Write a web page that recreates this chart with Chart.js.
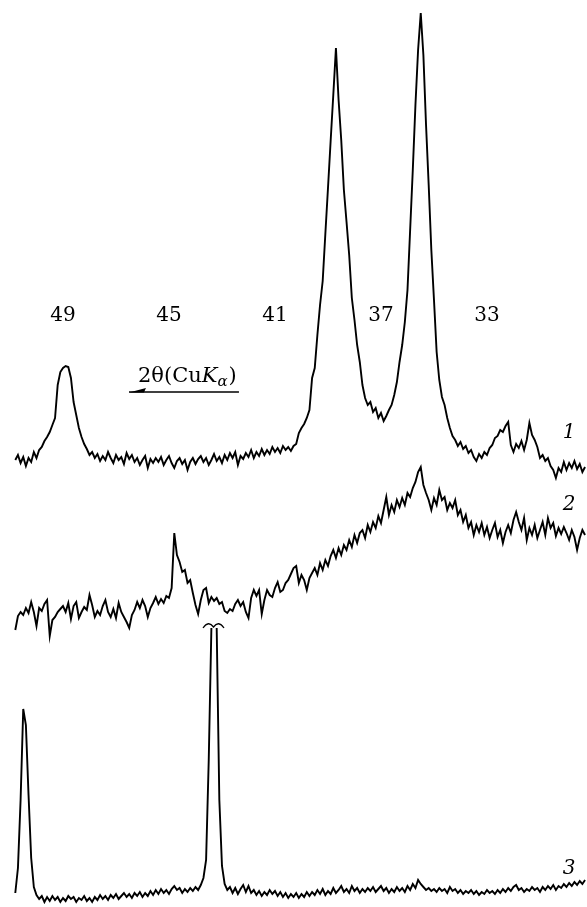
<!DOCTYPE html>
<html>
<head>
<meta charset="utf-8">
<script src="https://cdn.jsdelivr.net/npm/chart.js@4.4.1/dist/chart.umd.min.js"></script>
<style>
  html, body { margin: 0; padding: 0; background: #fff; }
  #wrap { width: 587px; height: 907px; }
</style>
</head>
<body>
<div id="wrap"><canvas id="c" width="587" height="907"></canvas></div>
<script>
// 2θ sampling angles (degrees, CuKα)
const twoTheta = [
  50.8,50.7,50.6,50.5,50.4,50.3,50.2,50.1,50.0,49.9,
  49.8,49.7,49.6,49.5,49.4,49.3,49.2,49.1,49.0,48.9,
  48.8,48.7,48.6,48.5,48.4,48.3,48.2,48.1,48.0,47.9,
  47.8,47.7,47.6,47.5,47.4,47.3,47.2,47.1,47.0,46.9,
  46.8,46.7,46.6,46.5,46.4,46.3,46.2,46.1,46.0,45.9,
  45.8,45.7,45.6,45.5,45.4,45.3,45.2,45.1,45.0,44.9,
  44.8,44.7,44.6,44.5,44.4,44.3,44.2,44.1,44.0,43.9,
  43.8,43.7,43.6,43.5,43.4,43.3,43.2,43.1,43.0,42.9,
  42.8,42.7,42.6,42.5,42.4,42.3,42.2,42.1,42.0,41.9,
  41.8,41.7,41.6,41.5,41.4,41.3,41.2,41.1,41.0,40.9,
  40.8,40.7,40.6,40.5,40.4,40.3,40.2,40.1,40.0,39.9,
  39.8,39.7,39.6,39.5,39.4,39.3,39.2,39.1,39.0,38.9,
  38.8,38.7,38.6,38.5,38.4,38.3,38.2,38.1,38.0,37.9,
  37.8,37.7,37.6,37.5,37.4,37.3,37.2,37.1,37.0,36.9,
  36.8,36.7,36.6,36.5,36.4,36.3,36.2,36.1,36.0,35.9,
  35.8,35.7,35.6,35.5,35.4,35.3,35.2,35.1,35.0,34.9,
  34.8,34.7,34.6,34.5,34.4,34.3,34.2,34.1,34.0,33.9,
  33.8,33.7,33.6,33.5,33.4,33.3,33.2,33.1,33.0,32.9,
  32.8,32.7,32.6,32.5,32.4,32.3,32.2,32.1,32.0,31.9,
  31.8,31.7,31.6,31.5,31.4,31.3,31.2,31.1,31.0,30.9,
  30.8,30.7,30.6,30.5,30.4,30.3,30.2,30.1,30.0,29.9,
  29.8,29.7,29.6,29.5,29.4,29.3
];

// Intensities (arbitrary units)
const intensity1 = [
  20,25,17,23,14,22,18,28,22,30,
  33,39,43,48,55,62,95,108,112,114,
  113,102,78,65,52,43,36,31,25,28,
  22,26,19,24,20,28,22,17,25,20,
  23,16,27,21,25,18,22,15,20,24,
  12,21,17,22,18,23,15,20,24,17,
  12,19,22,16,20,10,18,22,16,21,
  24,18,22,15,20,26,19,23,17,25,
  20,27,22,28,15,24,21,27,23,30,
  22,28,24,31,25,30,26,33,28,32,
  27,34,30,33,29,34,36,47,52,56,
  62,70,102,112,145,175,199,246,292,339,
  385,432,380,340,290,258,225,182,160,135,
  118,95,82,75,78,68,72,62,67,59,
  64,70,75,85,98,118,135,158,190,250,
  310,375,430,467,425,355,295,230,180,128,
  100,83,75,62,52,44,40,34,38,31,
  34,27,30,23,19,26,22,28,25,32,
  35,42,44,50,48,54,58,35,28,36,
  32,39,30,40,57,45,40,33,22,25,
  19,22,14,10,2,12,8,18,10,17,
  12,19,11,16,8,13
];

const intensity2 = [
  10,24,28,25,32,27,38,28,14,32,
  29,36,40,4,20,23,28,31,34,28,
  37,21,34,38,22,28,33,30,45,35,
  23,29,25,34,40,28,23,31,22,37,
  28,23,18,12,25,30,38,32,40,34,
  23,32,37,43,36,41,37,44,42,52,
  107,85,78,68,70,57,60,47,35,26,
  40,50,52,37,43,39,42,36,38,29,
  27,31,29,36,40,34,38,28,22,42,
  50,44,50,26,40,50,45,43,52,58,
  48,50,57,60,66,72,74,57,65,60,
  50,62,67,72,65,77,70,80,74,84,
  90,82,92,85,95,90,100,93,105,97,
  107,110,102,115,108,118,112,124,117,130,
  143,125,135,128,140,133,142,135,147,143,
  152,158,168,173,155,147,140,130,142,135,
  150,140,143,130,137,132,140,125,130,118,
  125,112,118,105,115,108,117,105,113,102,
  110,117,103,110,97,108,115,107,120,128,
  118,110,122,100,112,105,115,102,110,118,
  105,122,112,117,104,112,106,113,107,100,
  110,103,90,102,110,105
];

// null = off-scale maximum (broken peak)
const intensity3 = [
  12,37,105,196,180,110,47,18,10,6,
  9,3,8,4,9,5,8,3,7,4,
  9,6,8,3,7,5,9,4,7,3,
  8,5,10,6,9,5,10,7,11,6,
  9,12,8,11,7,12,9,13,8,12,
  9,14,10,15,11,16,12,15,11,16,
  19,15,17,12,16,13,17,14,18,15,
  20,27,45,145,277,null,277,105,39,21,
  15,18,12,17,11,16,20,13,19,12,
  15,10,14,9,13,10,15,11,14,9,
  13,8,12,7,11,8,12,7,11,8,
  13,9,13,10,15,11,16,10,14,11,
  17,12,15,19,13,16,12,19,14,17,
  12,16,13,17,14,18,13,16,19,14,
  17,12,16,13,18,14,17,13,19,15,
  21,17,25,21,18,15,17,14,16,13,
  17,14,16,12,18,14,16,12,15,11,
  14,12,15,11,14,10,13,11,15,12,
  14,11,15,12,16,13,17,14,18,20,
  15,17,13,16,14,18,15,17,13,18,
  15,19,16,20,15,19,17,21,18,22,
  19,23,20,24,21,25
];

const tickLabels = [49, 45, 41, 37, 33];
const curveNames = ['1', '2', '3'];
const axisTitle = ['2θ(Cu', 'K', 'α', ')'];

// layout constants (stacking offsets and view range)
const OFFSETS = [427, 267, 2];
const X_MIN = 29.226, X_MAX = 51.377;
const Y_MIN = 0, Y_MAX = 907;
const TICK_ROW = 603;
const NAME_X = 29.9;
const NAME_Y = [469, 397, 33];
const TITLE_POS = { x: 46.17, y: 525 };
const ARROW = { from: 42.36, to: 46.51, y: 515 };
const BREAK_POS = { x: 43.32, y: 281 };

const series = [intensity1, intensity2, intensity3];
const datasets = series.map((arr, k) => ({
  label: curveNames[k],
  data: twoTheta.map((t, i) => ({ x: t, y: arr[i] === null ? null : arr[i] + OFFSETS[k] })),
  borderColor: '#000',
  borderWidth: 1.9,
  pointRadius: 0,
  tension: 0,
  fill: false,
  spanGaps: false
}));

const annotations = {
  id: 'annotations',
  afterDraw(chart) {
    const { ctx } = chart;
    const xs = chart.scales.x, ys = chart.scales.y;
    ctx.save();
    ctx.fillStyle = '#000';
    ctx.strokeStyle = '#000';
    // curve numbers
    ctx.font = 'italic 20px "DejaVu Serif"';
    ctx.textAlign = 'center';
    ctx.textBaseline = 'alphabetic';
    curveNames.forEach((n, k) => {
      ctx.fillText(n, xs.getPixelForValue(NAME_X), ys.getPixelForValue(NAME_Y[k]));
    });
    // axis title 2θ(CuKα)
    ctx.textAlign = 'left';
    let tx = xs.getPixelForValue(TITLE_POS.x);
    const ty = ys.getPixelForValue(TITLE_POS.y);
    ctx.font = '21px "DejaVu Serif"';
    ctx.fillText(axisTitle[0], tx, ty); tx += ctx.measureText(axisTitle[0]).width;
    ctx.font = 'italic 21px "DejaVu Serif"';
    ctx.fillText(axisTitle[1], tx, ty); tx += ctx.measureText(axisTitle[1]).width;
    ctx.font = 'italic 15px "DejaVu Serif"';
    ctx.fillText(axisTitle[2], tx, ty + 4); tx += ctx.measureText(axisTitle[2]).width + 1;
    ctx.font = '21px "DejaVu Serif"';
    ctx.fillText(axisTitle[3], tx, ty);
    // arrow (toward increasing 2θ)
    const ax1 = xs.getPixelForValue(ARROW.from), ax2 = xs.getPixelForValue(ARROW.to);
    const ay = ys.getPixelForValue(ARROW.y);
    ctx.lineWidth = 1.5;
    ctx.beginPath(); ctx.moveTo(ax1, ay); ctx.lineTo(ax2, ay); ctx.stroke();
    ctx.beginPath();
    ctx.moveTo(ax2, ay + 0.5);
    ctx.lineTo(ax2 + 17, ay - 4);
    ctx.lineTo(ax2 + 15, ay + 0.5);
    ctx.closePath(); ctx.fill();
    // break mark on the off-scale peak of curve 3
    const bx = xs.getPixelForValue(BREAK_POS.x), by = ys.getPixelForValue(BREAK_POS.y);
    ctx.lineWidth = 1.3;
    ctx.beginPath();
    ctx.moveTo(bx - 10.5, by + 2);
    ctx.quadraticCurveTo(bx - 5, by - 6, bx, by + 1);
    ctx.quadraticCurveTo(bx + 5, by - 6, bx + 10.5, by + 2);
    ctx.stroke();
    ctx.restore();
  }
};

new Chart(document.getElementById('c'), {
  type: 'line',
  data: { datasets },
  options: {
    responsive: false,
    animation: false,
    events: [],
    layout: { padding: 0 },
    plugins: { legend: { display: false }, tooltip: { enabled: false }, title: { display: false } },
    scales: {
      x: {
        type: 'linear',
        reverse: true,
        min: X_MIN,
        max: X_MAX,
        position: { y: TICK_ROW },
        grid: { display: false, drawTicks: false },
        border: { display: false },
        ticks: {
          color: '#000',
          padding: 0,
          maxRotation: 0,
          autoSkip: false,
          font: { family: '"DejaVu Serif"', size: 20 }
        },
        afterBuildTicks: ax => { ax.ticks = tickLabels.map(v => ({ value: v })); },
        afterFit: ax => { ax.height = 0; }
      },
      y: {
        type: 'linear',
        display: false,
        min: Y_MIN,
        max: Y_MAX
      }
    }
  },
  plugins: [annotations]
});
</script>
</body>
</html>
